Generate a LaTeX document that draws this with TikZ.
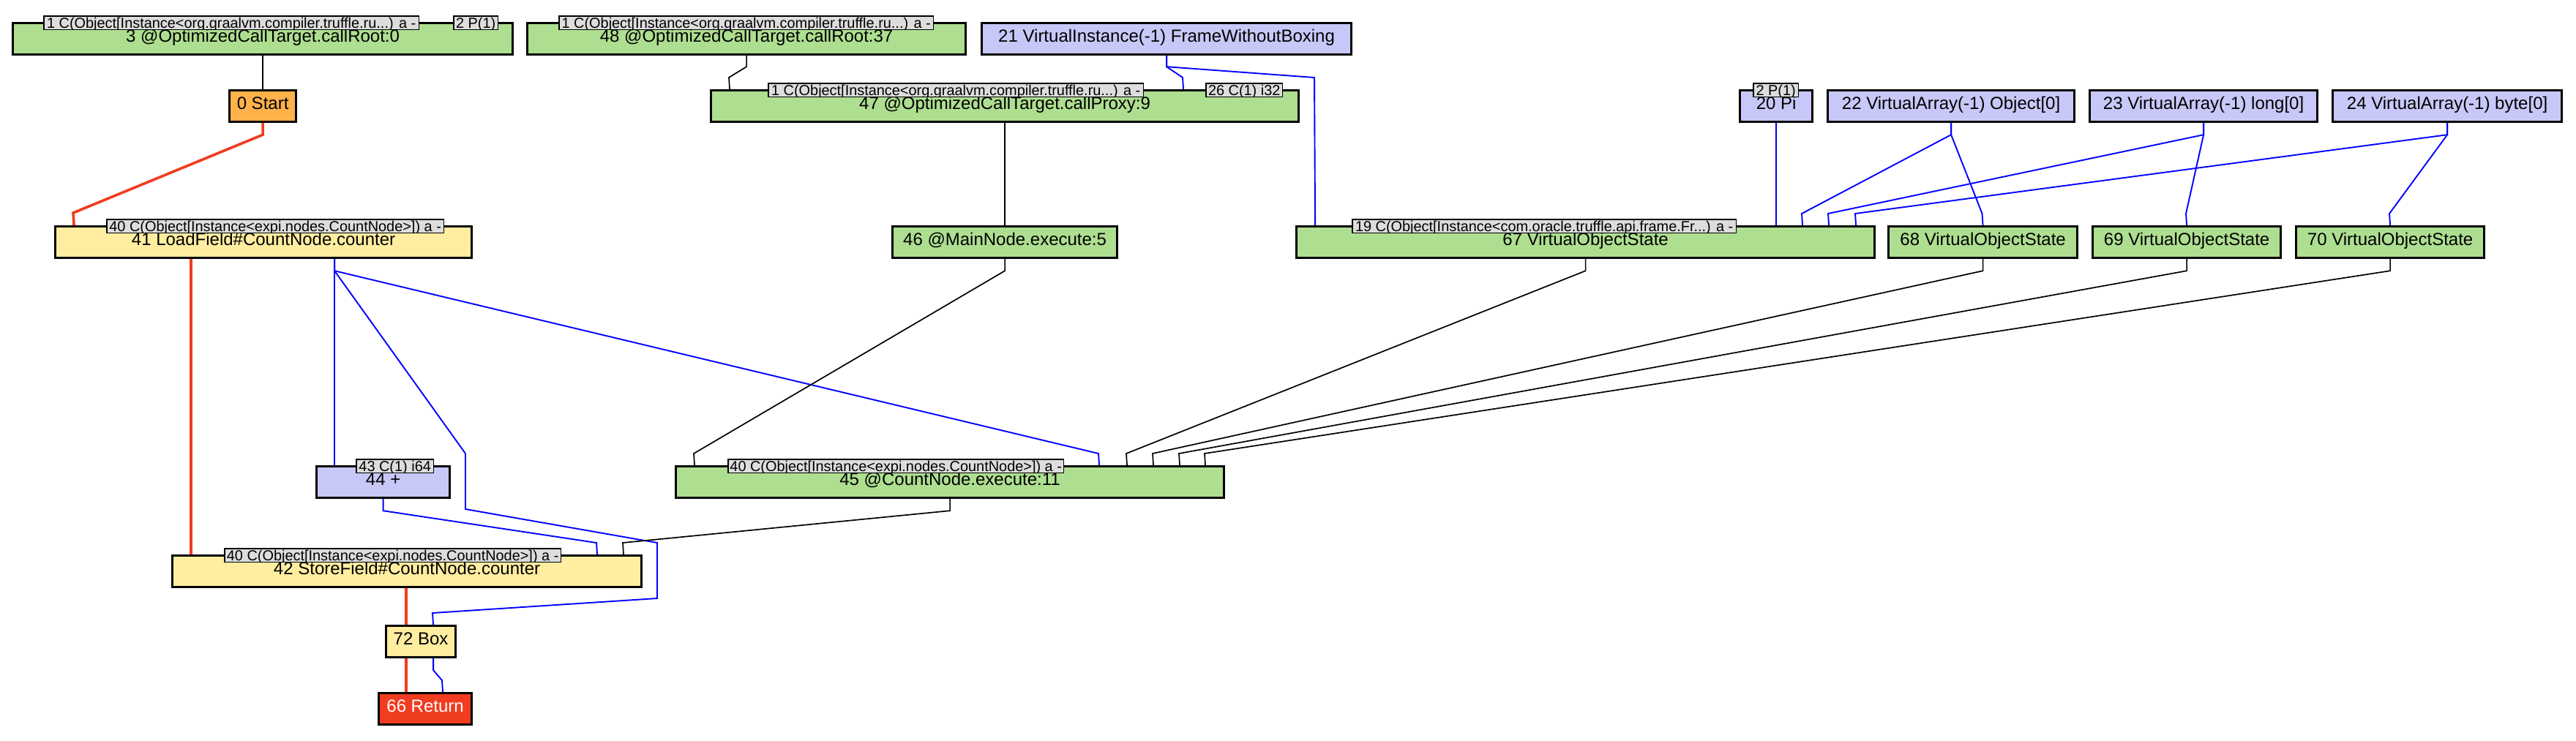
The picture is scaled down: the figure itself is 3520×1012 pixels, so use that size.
\documentclass[tikz,border=0pt]{standalone}
\usepackage{fontspec}
\setmainfont{Liberation Sans}
\definecolor{ngreen}{RGB}{174,222,144}
\definecolor{nyellow}{RGB}{255,237,160}
\definecolor{nblue}{RGB}{200,200,248}
\definecolor{norange}{RGB}{255,178,74}
\definecolor{nred}{RGB}{240,60,32}
\definecolor{lgray}{RGB}{221,221,221}
\definecolor{eblue}{RGB}{0,0,255}
\newcommand\lbl[5]{%
  \node[lblbox, minimum width=#4, anchor=north west] (#1) at (#2,#3) {};
  \begin{scope}
    \clip (#1.north west) rectangle (#1.south east);
    \node[lbltxt, anchor=base] (#1t) at ([yshift=1.5pt]#1.south) {#5};
  \end{scope}
  \draw[lblline] (#1.north west) rectangle (#1.south east);
}
\begin{document}
\begin{tikzpicture}[x=1pt,y=-1pt,
  gbox/.style={draw=black, line width=2.2pt, inner sep=0pt, anchor=north west,
     minimum height=42, text height=25pt, text depth=17pt,
     font=\fontsize{24}{28}\selectfont},
  green/.style={gbox, fill=ngreen},
  yellow/.style={gbox, fill=nyellow},
  lav/.style={gbox, fill=nblue},
  orange/.style={gbox, fill=norange},
  redbox/.style={gbox, fill=nred, text=white},
  lblbox/.style={fill=lgray, draw=none, inner sep=0pt, minimum height=18},
  lbltxt/.style={inner sep=0pt, font=\fontsize{19.9}{24}\selectfont},
  lblline/.style={draw=black, line width=1.4pt},
  blk/.style={draw=black, line width=1.7pt},
  blu/.style={draw=eblue, line width=1.9pt},
  rd/.style={draw=nred, line width=3.6pt},
]
\fill[white] (0,0) rectangle (3520,1012);
\useasboundingbox (0,0) rectangle (3520,1012);

% nodes
\node[green, minimum width=682] (n3) at (17,31) {3 @OptimizedCallTarget.callRoot:0};
\node[green, minimum width=598] (n48) at (720,31) {48 @OptimizedCallTarget.callRoot:37};
\node[lav, minimum width=504] (n21) at (1341,31) {21 VirtualInstance(-1) FrameWithoutBoxing};

\node[orange, minimum width=90] (n0) at (313,123) {0 Start};
\node[green, minimum width=802] (n47) at (971,123) {47 @OptimizedCallTarget.callProxy:9};
\node[lav, minimum width=98] (n20) at (2377,123) {20 Pi};
\node[lav, minimum width=336] (n22) at (2497,123) {22 VirtualArray(-1) Object[0]};
\node[lav, minimum width=310] (n23) at (2855,123) {23 VirtualArray(-1) long[0]};
\node[lav, minimum width=312] (n24) at (3187,123) {24 VirtualArray(-1) byte[0]};

\node[yellow, minimum width=568] (n41) at (75,309) {41 LoadField\#CountNode.counter};
\node[green, minimum width=306] (n46) at (1219,309) {46 @MainNode.execute:5};
\node[green, minimum width=789] (n67) at (1771,309) {67 VirtualObjectState};
\node[green, minimum width=257] (n68) at (2580,309) {68 VirtualObjectState};
\node[green, minimum width=256] (n69) at (2859,309) {69 VirtualObjectState};
\node[green, minimum width=256] (n70) at (3137,309) {70 VirtualObjectState};

\node[lav, minimum width=181] (n44) at (432,637) {44 +};
\node[green, minimum width=748] (n45) at (923,637) {45 @CountNode.execute:11};

\node[yellow, minimum width=640] (n42) at (235,759) {42 StoreField\#CountNode.counter};
\node[yellow, minimum width=94] (n72) at (527,855) {72 Box};
\node[redbox, minimum width=126] (n66) at (517,947) {66 Return};

% edges
\draw[blk] (n3.south) -- (n0.north);
\draw[blk] (n48.south) -- ++(0,16) -- (996,106) -- ([xshift=-376pt]n47.north);
\draw[blu] (n21.south) -- ++(0,16) -- (1616,106) -- ([xshift=244pt]n47.north);
\draw[blu] (n21.south) -- ++(0,16) -- (1796,106) -- ([xshift=-369.5pt]n67.north);
\draw[blk] (n47.south) -- (n46.north);
\draw[blu] (n20.south) -- ([xshift=260.5pt]n67.north);
\draw[blu] (n22.south) -- ++(0,17) -- (2462,292) -- ([xshift=296.5pt]n67.north);
\draw[blu] (n22.south) -- ++(0,17) -- (2708.5,292) -- (n68.north);
\draw[blu] (n23.south) -- ++(0,17) -- (2498,292) -- ([xshift=332.5pt]n67.north);
\draw[blu] (n23.south) -- ++(0,17) -- (2987,292) -- (n69.north);
\draw[blu] (n24.south) -- ++(0,17) -- (2535,292) -- ([xshift=369.5pt]n67.north);
\draw[blu] (n24.south) -- ++(0,17) -- (3265,292) -- (n70.north);
\draw[rd] (n0.south) -- ++(0,17) -- (100,291) -- ([xshift=-259pt]n41.north);
\draw[rd] ([xshift=-99pt]n41.south) -- ([xshift=-295pt]n42.north);
\draw[blu] ([xshift=97pt]n41.south) -- ([xshift=-66.5pt]n44.north);
\draw[blu] ([xshift=97pt]n41.south) -- ++(0,17) -- (1501,620) -- ([xshift=204pt]n45.north);
\draw[blu] ([xshift=97pt]n41.south) -- ++(0,17) -- (636,620) -- (636,696) -- (898,742) -- (898,818) -- (591,838) -- ([xshift=17pt]n72.north);
\draw[blk] (n46.south) -- ++(0,17) -- (948,620) -- ([xshift=-349pt]n45.north);
\draw[blk] (n67.south) -- ++(0,17) -- (1539,620) -- ([xshift=242pt]n45.north);
\draw[blk] (n68.south) -- ++(0,17) -- (1575,620) -- ([xshift=278pt]n45.north);
\draw[blk] (n69.south) -- ++(0,17) -- (1611,620) -- ([xshift=314pt]n45.north);
\draw[blk] (n70.south) -- ++(0,17) -- (1646,620) -- ([xshift=349pt]n45.north);
\draw[blu] (n44.south) -- ++(0,17) -- (815,742) -- ([xshift=260pt]n42.north);
\draw[blk] (n45.south) -- ++(0,17) -- (851,742) -- ([xshift=296pt]n42.north);
\draw[rd] ([xshift=-1pt]n42.south) -- ([xshift=-20pt]n72.north);
\draw[rd] ([xshift=-20pt]n72.south) -- ([xshift=-26pt]n66.north);
\draw[blu] ([xshift=17pt]n72.south) -- ++(0,17) -- (604,930) -- ([xshift=24pt]n66.north);

% redraw node frames over edge ends
\foreach \n in {n3,n48,n21,n0,n47,n20,n22,n23,n24,n41,n46,n67,n68,n69,n70,n44,n45,n42,n72,n66}
  \draw[line width=2.2pt] (\n.north west) rectangle (\n.south east);

% labels
\lbl{l3a}{60}{22}{512}{1 C(Object[Instance<org.graalvm.compiler.truffle.ru...) a -}
\lbl{l3b}{620}{22}{60}{2 P(1)}
\lbl{l48a}{764}{22}{511}{1 C(Object[Instance<org.graalvm.compiler.truffle.ru...) a -}
\lbl{l47a}{1050}{114}{512}{1 C(Object[Instance<org.graalvm.compiler.truffle.ru...) a -}
\lbl{l47b}{1648}{114}{104}{26 C(1) i32}
\lbl{l20a}{2396}{114}{61}{2 P(1)}
\lbl{l41a}{146}{300}{460}{40 C(Object[Instance<expi.nodes.CountNode>]) a -}
\lbl{l67a}{1848}{300}{524}{19 C(Object[Instance<com.oracle.truffle.api.frame.Fr...) a -}
\lbl{l44a}{487}{628}{105}{43 C(1) i64}
\lbl{l45a}{995}{628}{458}{40 C(Object[Instance<expi.nodes.CountNode>]) a -}
\lbl{l42a}{307}{750}{459}{40 C(Object[Instance<expi.nodes.CountNode>]) a -}
\end{tikzpicture}
\end{document}
